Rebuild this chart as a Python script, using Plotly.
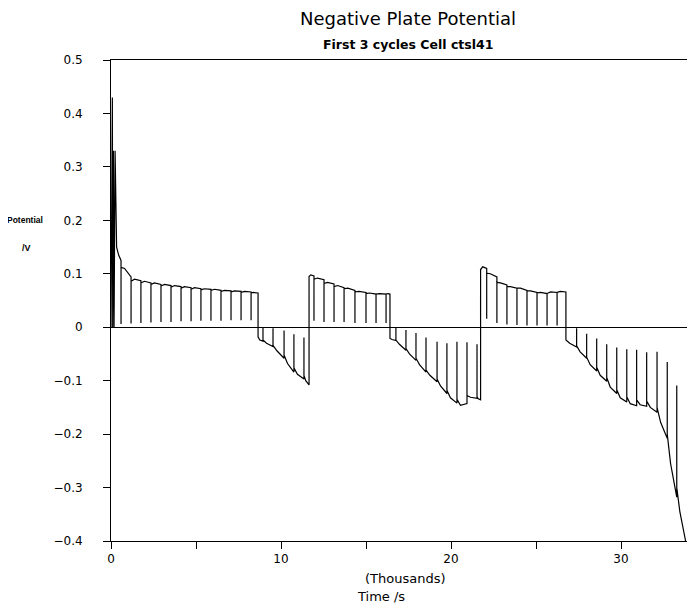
import plotly.graph_objects as go

# ---------------- data: time in thousands of s, potential in V ----------------
# initial transient at start of first charge
init_t = [0.0, 0.08, 0.10, 0.14, 0.18, 0.24, 0.33, 0.45, 0.59, 0.59]
init_v = [0.0, 0.43, 0.0, 0.33, 0.0, 0.33, 0.15, 0.135, 0.125, 0.006]

# charge 1 (pulses drop to near rest potential)
c1_t0, c1_end = 0.59, 8.65
c1_pulse = [1.18, 1.76, 2.35, 2.94, 3.53, 4.12, 4.71, 5.29, 5.88, 6.47, 7.06, 7.65, 8.24]
c1_start = [0.112, 0.086, 0.083, 0.080, 0.077, 0.075, 0.073, 0.071, 0.070, 0.069, 0.067, 0.066, 0.065, 0.064]
c1_mid = [0.110, 0.090, 0.086, 0.083, 0.080, 0.078, 0.076, 0.074, 0.072, 0.071, 0.069, 0.068, 0.067, 0.065]
c1_stop = [0.094, 0.087, 0.083, 0.080, 0.078, 0.076, 0.074, 0.072, 0.071, 0.069, 0.068, 0.067, 0.066, 0.064]
c1_rest = [0.007, 0.008, 0.009, 0.010, 0.010, 0.011, 0.011, 0.012, 0.012, 0.012, 0.013, 0.013, 0.013]

# discharge 1
d1_t0, d1_end = 8.65, 11.65
d1_pulse = [8.94, 9.53, 10.18, 10.76, 11.35]
d1_start = [-0.018, -0.024, -0.034, -0.052, -0.076, -0.090]
d1_mid = [-0.024, -0.030, -0.044, -0.068, -0.088, -0.100]
d1_stop = [-0.026, -0.036, -0.058, -0.084, -0.097, -0.108]
d1_rest = [0.0, -0.002, -0.006, -0.013, -0.019]

# charge 2
c2_t0, c2_end = 11.65, 16.41
c2_pulse = [11.94, 12.53, 13.12, 13.71, 14.35, 15.0, 15.59, 16.18]
c2_start = [0.095, 0.090, 0.082, 0.076, 0.072, 0.066, 0.063, 0.062, 0.062]
c2_mid = [0.098, 0.092, 0.084, 0.078, 0.073, 0.067, 0.064, 0.063, 0.063]
c2_stop = [0.096, 0.089, 0.081, 0.074, 0.069, 0.065, 0.062, 0.062, 0.062]
c2_rest = [0.012, 0.010, 0.010, 0.010, 0.008, 0.008, 0.008, 0.008]

# discharge 2
d2_t0, d2_end = 16.41, 21.74
d2_pulse = [16.76, 17.35, 17.94, 18.53, 19.18, 19.76, 20.35, 20.94, 21.53]
d2_start = [-0.021, -0.024, -0.040, -0.058, -0.080, -0.097, -0.118, -0.135, -0.128, -0.130]
d2_mid = [-0.023, -0.032, -0.050, -0.070, -0.090, -0.110, -0.132, -0.146, -0.131, -0.134]
d2_stop = [-0.025, -0.043, -0.062, -0.084, -0.102, -0.124, -0.142, -0.143, -0.133, -0.136]
d2_rest = [-0.001, -0.005, -0.011, -0.019, -0.027, -0.030, -0.027, -0.028, -0.032]

# charge 3
c3_t0, c3_end = 21.74, 26.76
c3_pulse = [22.1, 22.7, 23.29, 23.88, 24.47, 25.06, 25.65, 26.24]
c3_start = [0.108, 0.101, 0.084, 0.076, 0.073, 0.068, 0.064, 0.063, 0.065]
c3_mid = [0.113, 0.100, 0.083, 0.076, 0.073, 0.068, 0.065, 0.066, 0.067]
c3_stop = [0.110, 0.094, 0.079, 0.073, 0.069, 0.065, 0.063, 0.065, 0.066]
c3_rest = [0.016, 0.008, 0.005, 0.004, 0.003, 0.003, 0.003, 0.003]

# discharge 3
d3_t0, d3_end = 26.76, 33.80
d3_pulse = [27.39, 27.98, 28.57, 29.16, 29.75, 30.34, 30.92, 31.51, 32.12, 32.72, 33.28]
d3_start = [-0.024, -0.035, -0.056, -0.075, -0.094, -0.117, -0.130, -0.136, -0.138, -0.150, -0.200, -0.300]
d3_mid = [-0.030, -0.046, -0.070, -0.090, -0.112, -0.132, -0.143, -0.145, -0.150, -0.178, -0.255, -0.345]
d3_stop = [-0.037, -0.058, -0.082, -0.101, -0.124, -0.140, -0.147, -0.148, -0.159, -0.208, -0.318, -0.400]
d3_rest = [-0.002, -0.012, -0.021, -0.032, -0.038, -0.041, -0.042, -0.047, -0.046, -0.065, -0.109]

# axis ticks
x_tickvals = [0, 5, 10, 15, 20, 25, 30]
x_ticktext = ["0", "", "10", "", "20", "", "30"]
y_tickvals = [0.5, 0.4, 0.3, 0.2, 0.1, 0.0, -0.1, -0.2, -0.3, -0.4]


def pulsed(t0, pulses, t_end, start, mid, stop, rest):
    bounds = [t0] + pulses + [t_end]
    xs, ys = [], []
    for i in range(len(bounds) - 1):
        a, b = bounds[i], bounds[i + 1]
        xs += [a, a + 0.35 * (b - a), b]
        ys += [start[i], mid[i], stop[i]]
        if i < len(pulses):
            xs.append(b)
            ys.append(rest[i])
    return xs, ys


t_all, v_all = list(init_t), list(init_v)
for phase in [
    (c1_t0, c1_pulse, c1_end, c1_start, c1_mid, c1_stop, c1_rest),
    (d1_t0, d1_pulse, d1_end, d1_start, d1_mid, d1_stop, d1_rest),
    (c2_t0, c2_pulse, c2_end, c2_start, c2_mid, c2_stop, c2_rest),
    (d2_t0, d2_pulse, d2_end, d2_start, d2_mid, d2_stop, d2_rest),
    (c3_t0, c3_pulse, c3_end, c3_start, c3_mid, c3_stop, c3_rest),
    (d3_t0, d3_pulse, d3_end, d3_start, d3_mid, d3_stop, d3_rest),
]:
    xs, ys = pulsed(*phase)
    t_all += xs
    v_all += ys

# page body adds an 8px offset; size the figure so it fills the window exactly
OFF = 8
W, H = 695 - OFF, 604 - OFF
L, R, T, B = 111 - OFF, 0, 60 - OFF, 604 - 541
pw, ph = W - L - R, H - T - B


def px(x):  # reference-window pixel -> paper x
    return (x - OFF - L) / pw


def py(y):  # reference-window pixel -> paper y
    return (H - B - (y - OFF)) / ph


fig = go.Figure()
fig.add_trace(go.Scatter(x=t_all, y=v_all, mode="lines",
                         line=dict(color="black", width=1.2),
                         hoverinfo="skip", showlegend=False))

font_main = "DejaVu Sans, Liberation Sans, sans-serif"

fig.update_layout(
    width=W, height=H,
    margin=dict(l=L, r=R, t=T, b=B, autoexpand=False),
    paper_bgcolor="white", plot_bgcolor="white",
    showlegend=False,
    font=dict(family=font_main, color="black", size=12),
    xaxis=dict(range=[0, pw / 17.0], tickvals=x_tickvals, ticktext=x_ticktext,
               ticks="outside", ticklen=7, tickwidth=1, tickcolor="black",
               showline=True, linecolor="black", linewidth=1, mirror=True,
               showgrid=False, zeroline=False,
               tickfont=dict(family=font_main, size=12, color="black")),
    yaxis=dict(range=[-0.4, 0.5], tickvals=y_tickvals,
               ticks="outside", ticklen=7, tickwidth=1, tickcolor="black",
               showline=True, linecolor="black", linewidth=1,
               showgrid=False, zeroline=True, zerolinecolor="black", zerolinewidth=1,
               ticklabelstandoff=18,
               tickfont=dict(family=font_main, size=12, color="black")),
)

annotations = [
    dict(text="Negative Plate Potential", x=px(408), y=py(18), size=18, family=font_main, weight="normal"),
    dict(text="First 3 cycles Cell ctsl41", x=px(408), y=py(45), size=12.5, family=font_main, weight="bold"),
    dict(text="Potential", x=px(25), y=py(220), size=8.5, family="Liberation Sans, Arial, sans-serif", weight="bold"),
    dict(text="/V", x=px(26), y=py(248), size=9, family="Liberation Sans, Arial, sans-serif", weight="bold"),
    dict(text="(Thousands)", x=px(405), y=py(578), size=13, family=font_main, weight="normal"),
    dict(text="Time /s", x=px(381), y=py(596), size=13, family=font_main, weight="normal"),
]
for a in annotations:
    fig.add_annotation(text=a["text"], x=a["x"], y=a["y"], xref="paper", yref="paper",
                       xanchor="center", yanchor="middle", showarrow=False,
                       font=dict(family=a["family"], size=a["size"], color="black",
                                 weight=a["weight"]))

fig.write_html("out.html")
